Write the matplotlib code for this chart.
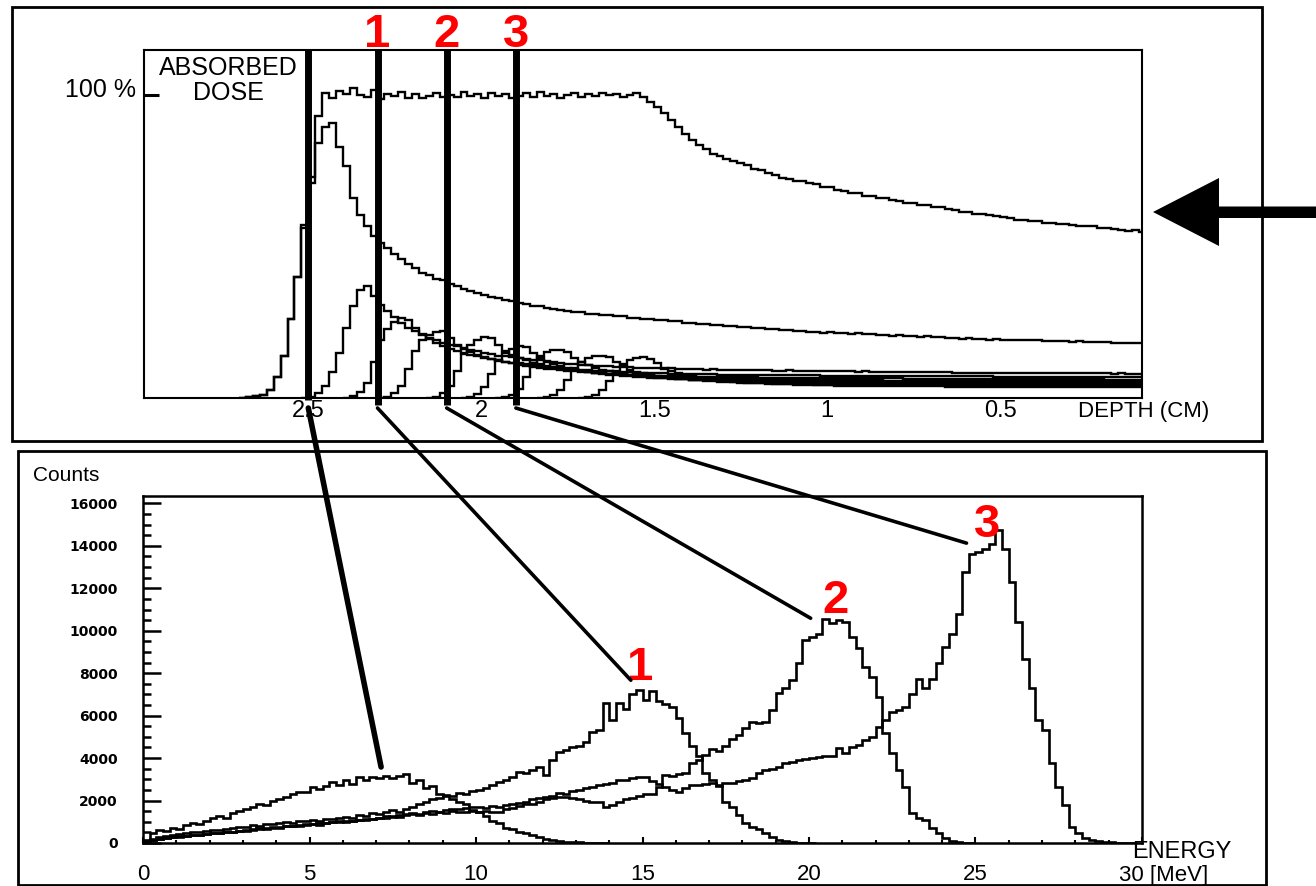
import numpy as np
import matplotlib
matplotlib.use("Agg")
import matplotlib.pyplot as plt
from matplotlib.patches import Rectangle, Polygon, ConnectionPatch
from matplotlib.transforms import blended_transform_factory
from matplotlib.ticker import MultipleLocator

plt.rcParams['font.family'] = ['Liberation Sans', 'DejaVu Sans']

# ---- depth-dose curves (% of plateau), 0.02 cm bins going from the start depth
# towards the entrance surface ----
bin_cm = 0.02
dose_start = [2.70, 2.70, 2.52, 2.40, 2.30, 2.16, 2.06, 1.96, 1.84, 1.72]

dose_total = [0.0, 0.2, 0.5, 1.0, 2.5, 7.0, 14.0, 26.0, 40.0, 57.0, 73.0, 93.0, 100.5,
              99.0, 101.2, 100.3, 102.4, 100.0, 99.3, 101.6, 98.8, 100.2, 99.6,
              100.9, 99.1, 100.4, 98.9, 99.8, 100.6, 99.2, 100.1, 99.5, 101.0,
              99.8, 100.4, 99.0, 100.8, 99.6, 100.2, 98.9, 99.7, 100.5, 99.3,
              100.9, 99.6, 100.3, 99.1, 100.0, 100.7, 99.4, 100.2, 99.8, 100.5,
              99.9, 100.3, 99.5, 100.1, 100.8,
              99.2, 97.8, 96.0, 94.2, 91.8, 89.6, 87.2, 85.3, 83.4, 82.1,
              80.6, 79.9, 78.8, 78.3, 77.4, 76.8, 75.7, 75.2, 74.1, 73.5,
              72.6, 72.4, 71.6, 71.5, 70.8, 70.6, 69.7, 69.5, 68.6, 68.4,
              67.6, 67.5, 66.8, 66.6, 66.0, 65.9, 65.2, 65.1, 64.4, 64.4,
              63.8, 63.7, 63.0, 62.9, 62.3, 62.1, 61.5, 61.4, 60.8, 60.8,
              60.3, 60.1, 59.6, 59.5, 58.9, 58.8, 58.3, 58.4, 57.9, 57.8,
              57.4, 57.5, 57.0, 56.9, 56.6, 56.6, 56.1, 56.0, 55.7, 55.6,
              55.2, 55.3, 54.9]

bragg_1 = [0.0, 0.2, 0.5, 1.0, 2.5, 7.0, 14.0, 26.0, 40.0, 56.0, 71.0, 84.0,
           89.5, 90.8, 83.0, 76.5, 66.0, 60.5, 56.8, 53.6, 51.2, 49.6,
           47.4, 45.9, 44.1, 42.8, 41.3, 40.5, 39.4, 38.9, 37.7, 36.9,
           36.1, 35.3, 34.7, 34.1, 33.3, 33.0, 32.4, 32.1, 31.4, 31.1,
           30.5, 30.2, 29.6, 29.5, 28.9, 28.8, 28.4, 28.3, 27.8, 27.7,
           27.3, 27.3, 26.9, 26.9, 26.4, 26.4, 26.0, 26.1, 25.7, 25.7,
           25.3, 25.3, 24.9, 24.9, 24.5, 24.5, 24.1, 24.1, 23.8, 23.8,
           23.4, 23.4, 23.1, 23.1, 22.7, 22.8, 22.4, 22.5, 22.1, 22.2,
           21.9, 21.9, 21.6, 21.7, 21.4, 21.5, 21.2, 21.3, 21.0, 21.1,
           20.8, 20.9, 20.6, 20.7, 20.4, 20.5, 20.2, 20.3, 20.0, 20.1,
           19.8, 19.9, 19.6, 19.7, 19.5, 19.6, 19.3, 19.4, 19.2, 19.3,
           19.1, 19.2, 19.0, 19.0, 18.8, 18.9, 18.7, 18.8, 18.6, 18.7,
           18.5, 18.6, 18.4, 18.4, 18.2, 18.3, 18.1, 18.2, 18.0]

bragg_2 = [0.0, 0.4, 1.5, 4.0, 8.5, 15.0, 23.0, 30.5, 35.5, 36.8,
           33.5, 30.8, 28.6, 26.8, 24.9, 23.2, 22.0, 20.8, 19.8, 19.0,
           18.2, 17.6, 17.0, 16.4, 15.9, 15.4, 14.9, 14.5, 14.0, 13.8,
           13.6, 13.3, 13.0, 12.7, 12.4, 12.1, 11.8, 11.6, 11.3, 11.1,
           10.9, 10.8, 10.6, 10.5, 10.4, 10.3, 10.2, 10.1, 10.0, 9.9,
           9.85, 9.9, 9.7, 9.75, 9.6, 9.55, 9.6, 9.45, 9.4, 9.45,
           9.3, 9.35, 9.25, 9.2, 9.3, 9.15, 9.1, 9.2, 9.05, 9.0,
           9.1, 8.95, 8.95, 9.0, 8.85, 8.85, 8.9, 8.8, 8.75, 8.8,
           8.7, 8.75, 8.65, 8.65, 8.7, 8.6, 8.55, 8.6, 8.5, 8.5,
           8.55, 8.45, 8.45, 8.5, 8.4, 8.4, 8.35, 8.4, 8.35, 8.3,
           8.35, 8.3, 8.25, 8.3, 8.25, 8.2, 8.25, 8.2, 8.2, 8.15,
           8.2, 8.15, 8.15, 8.1, 8.15, 8.1, 8.1, 8.05, 8.1, 8.05,
           8.05, 8.0]

bragg_3 = [0.0, 0.5, 2.0, 5.0, 12.0, 19.0, 22.8, 25.0, 26.5, 25.6,
           23.0, 21.0, 19.4, 18.0, 17.0, 16.1, 15.4, 14.8, 14.2, 13.7,
           13.2, 12.8, 12.4, 12.0, 11.7, 11.4, 11.1, 10.8, 10.6, 10.3,
           10.1, 9.9, 9.7, 9.5, 9.35, 9.2, 9.05, 8.9, 8.8, 8.7,
           8.6, 8.5, 8.4, 8.3, 8.25, 8.2, 8.1, 8.05, 8.0, 7.95,
           7.9, 7.85, 7.85, 7.8, 7.75, 7.75, 7.7, 7.7, 7.65, 7.65,
           7.6, 7.6, 7.55, 7.55, 7.5, 7.5, 7.5, 7.45, 7.45, 7.4,
           7.4, 7.4, 7.35, 7.35, 7.35, 7.3, 7.3, 7.3, 7.25, 7.25,
           7.25, 7.2, 7.2, 7.2, 7.2, 7.15, 7.15, 7.15, 7.15, 7.1,
           7.1, 7.1, 7.1, 7.1, 7.05, 7.05, 7.05, 7.05, 7.05, 7.0,
           7.0, 7.0, 7.0, 7.0, 7.0, 6.95, 6.95, 6.95, 6.95, 6.95,
           6.95, 6.9, 6.9, 6.9, 6.9, 6.9]

bragg_4 = [0.0, 0.4, 1.5, 4.0, 9.5, 15.5, 19.0, 20.8, 21.8, 22.0,
           19.8, 17.6, 16.2, 15.1, 14.2, 13.5, 12.9, 12.3, 11.8, 11.4,
           11.0, 10.6, 10.3, 10.0, 9.7, 9.45, 9.2, 9.0, 8.8, 8.6,
           8.45, 8.3, 8.15, 8.0, 7.9, 7.8, 7.7, 7.6, 7.5, 7.45,
           7.4, 7.3, 7.25, 7.2, 7.15, 7.1, 7.05, 7.0, 6.95, 6.9,
           6.9, 6.85, 6.85, 6.8, 6.8, 6.75, 6.75, 6.7, 6.7, 6.7,
           6.65, 6.65, 6.6, 6.6, 6.6, 6.55, 6.55, 6.55, 6.5, 6.5,
           6.5, 6.5, 6.45, 6.45, 6.45, 6.45, 6.4, 6.4, 6.4, 6.4,
           6.35, 6.35, 6.35, 6.35, 6.3, 6.3, 6.3, 6.3, 6.3, 6.25,
           6.25, 6.25, 6.25, 6.25, 6.2, 6.2, 6.2, 6.2, 6.2, 6.2,
           6.15, 6.15, 6.15, 6.15, 6.15, 6.1, 6.1, 6.1, 6.1, 6.1,
           6.1]

bragg_5 = [0.0, 0.4, 1.5, 4.0, 9.0, 14.5, 17.5, 19.0, 20.0, 19.8,
           17.6, 15.6, 14.2, 13.2, 12.4, 11.7, 11.1, 10.6, 10.2, 9.8,
           9.45, 9.15, 8.85, 8.6, 8.35, 8.15, 7.95, 7.8, 7.65, 7.5,
           7.35, 7.25, 7.1, 7.0, 6.9, 6.8, 6.75, 6.65, 6.6, 6.5,
           6.45, 6.4, 6.35, 6.3, 6.3, 6.25, 6.2, 6.2, 6.15, 6.1,
           6.1, 6.05, 6.05, 6.0, 6.0, 5.95, 5.95, 5.9, 5.9, 5.9,
           5.85, 5.85, 5.85, 5.8, 5.8, 5.8, 5.75, 5.75, 5.75, 5.75,
           5.7, 5.7, 5.7, 5.7, 5.7, 5.65, 5.65, 5.65, 5.65, 5.65,
           5.6, 5.6, 5.6, 5.6, 5.6, 5.6, 5.55, 5.55, 5.55, 5.55,
           5.55, 5.55, 5.5, 5.5, 5.5, 5.5, 5.5, 5.5, 5.5, 5.45,
           5.45, 5.45, 5.45, 5.45]

bragg_6 = [0.0, 0.3, 1.2, 3.5, 8.0, 12.5, 15.0, 16.3, 17.0, 16.8,
           14.9, 13.2, 12.0, 11.2, 10.5, 9.9, 9.4, 9.0, 8.6, 8.3,
           8.0, 7.7, 7.5, 7.3, 7.1, 6.95, 6.8, 6.65, 6.55, 6.45,
           6.35, 6.25, 6.15, 6.1, 6.0, 5.95, 5.9, 5.85, 5.8, 5.75,
           5.7, 5.65, 5.65, 5.6, 5.6, 5.55, 5.55, 5.5, 5.5, 5.45,
           5.45, 5.45, 5.4, 5.4, 5.4, 5.35, 5.35, 5.35, 5.3, 5.3,
           5.3, 5.3, 5.25, 5.25, 5.25, 5.25, 5.2, 5.2, 5.2, 5.2,
           5.2, 5.15, 5.15, 5.15, 5.15, 5.15, 5.1, 5.1, 5.1, 5.1,
           5.1, 5.1, 5.05, 5.05, 5.05, 5.05, 5.05, 5.05, 5.0, 5.0,
           5.0, 5.0, 5.0, 5.0, 5.0, 4.95, 4.95, 4.95, 4.95]

bragg_7 = [0.0, 0.3, 1.0, 3.0, 7.0, 11.5, 14.0, 15.2, 15.8, 16.0,
           15.2, 13.2, 11.8, 10.8, 10.0, 9.3, 8.8, 8.4, 8.0, 7.7,
           7.4, 7.15, 6.95, 6.75, 6.6, 6.45, 6.3, 6.2, 6.1, 6.0,
           5.9, 5.8, 5.75, 5.65, 5.6, 5.5, 5.45, 5.4, 5.35, 5.3,
           5.25, 5.2, 5.2, 5.15, 5.1, 5.1, 5.05, 5.05, 5.0, 5.0,
           4.95, 4.95, 4.9, 4.9, 4.9, 4.85, 4.85, 4.85, 4.8, 4.8,
           4.8, 4.75, 4.75, 4.75, 4.75, 4.7, 4.7, 4.7, 4.7, 4.65,
           4.65, 4.65, 4.65, 4.65, 4.6, 4.6, 4.6, 4.6, 4.6, 4.55,
           4.55, 4.55, 4.55, 4.55, 4.55, 4.5, 4.5, 4.5, 4.5, 4.5,
           4.5, 4.5, 4.45, 4.45]

bragg_8 = [0.0, 0.3, 1.0, 2.8, 6.0, 9.8, 12.0, 13.1, 13.8, 14.0,
           13.5, 11.8, 10.4, 9.4, 8.7, 8.1, 7.6, 7.2, 6.9, 6.6,
           6.35, 6.15, 5.95, 5.8, 5.65, 5.5, 5.4, 5.3, 5.2, 5.1,
           5.0, 4.95, 4.85, 4.8, 4.75, 4.7, 4.65, 4.6, 4.55, 4.5,
           4.45, 4.45, 4.4, 4.4, 4.35, 4.35, 4.3, 4.3, 4.3, 4.25,
           4.25, 4.25, 4.2, 4.2, 4.2, 4.15, 4.15, 4.15, 4.15, 4.1,
           4.1, 4.1, 4.1, 4.1, 4.05, 4.05, 4.05, 4.05, 4.05, 4.0,
           4.0, 4.0, 4.0, 4.0, 4.0, 3.95, 3.95, 3.95, 3.95, 3.95,
           3.95, 3.9, 3.9, 3.9, 3.9, 3.9, 3.9, 3.9]

bragg_9 = [0.0, 0.3, 1.0, 2.6, 5.5, 9.0, 11.3, 12.5, 13.2, 13.5,
           13.0, 11.4, 10.0, 9.0, 8.2, 7.6, 7.1, 6.7, 6.35, 6.05,
           5.8, 5.6, 5.4, 5.25, 5.1, 4.95, 4.85, 4.75, 4.65, 4.55,
           4.5, 4.4, 4.35, 4.3, 4.25, 4.2, 4.15, 4.1, 4.05, 4.0,
           4.0, 3.95, 3.95, 3.9, 3.9, 3.9, 3.85, 3.85, 3.85, 3.8,
           3.8, 3.8, 3.8, 3.75, 3.75, 3.75, 3.75, 3.7, 3.7, 3.7,
           3.7, 3.7, 3.65, 3.65, 3.65, 3.65, 3.65, 3.6, 3.6, 3.6,
           3.6, 3.6, 3.6, 3.6, 3.55, 3.55, 3.55, 3.55, 3.55, 3.55,
           3.5, 3.5]

depth_ticks = [2.5, 2.0, 1.5, 1.0, 0.5]
depth_tick_labels = ['2.5', '2', '1.5', '1', '0.5']

# ---- energy spectra at the marked depths, 0.2 MeV bins from 0 MeV ----
e_bin = 0.2
counts_25 = [150, 450, 600, 560, 700, 680, 850, 960, 900, 1050,
             1180, 1250, 1200, 1420, 1500, 1580, 1700, 1820, 1780, 1980,
             2080, 2150, 2300, 2420, 2380, 2620, 2550, 2700, 2860, 2750,
             2950, 2800, 3120, 2980, 3100, 3050, 3180, 3080, 3150, 3250,
             2850, 2950, 2600, 2700, 2300, 2200, 2050, 1950, 1850, 1550,
             1450, 1250, 1020, 920, 720, 650, 520, 450, 360, 270,
             210, 150, 100, 70, 50, 30, 20, 10, 5, 0]

counts_1 = [80, 200, 300, 330, 380, 420, 450, 530, 520, 580,
            610, 600, 680, 700, 740, 760, 830, 800, 880, 900,
            920, 980, 950, 1020, 1050, 1080, 1060, 1150, 1120, 1200,
            1240, 1190, 1300, 1280, 1400, 1350, 1450, 1550, 1480, 1600,
            1700, 1850, 1950, 2080, 2100, 2250, 2200, 2340, 2300, 2450,
            2500, 2580, 2750, 2890, 2950, 3100, 3350, 3300, 3440, 3590,
            3200, 3900, 4300, 4380, 4500, 4550, 4770, 5240, 5320, 6580,
            5800, 6580, 6300, 7040, 7200, 6730, 7150, 6700, 6550, 6420,
            5900, 5200, 4550, 4100, 3300, 2950, 2750, 1950, 1700, 1300,
            950, 750, 640, 480, 300, 150, 80, 40, 20, 10, 0]

counts_2 = [60, 150, 200, 250, 280, 320, 350, 400, 380, 430,
            450, 480, 520, 500, 560, 600, 650, 700, 680, 740,
            760, 800, 780, 850, 880, 900, 870, 950, 1000, 980,
            1050, 1020, 1100, 1080, 1150, 1200, 1180, 1250, 1220, 1300,
            1350, 1320, 1400, 1380, 1450, 1420, 1500, 1470, 1450, 1500,
            1470, 1520, 1480, 1470, 1600, 1650, 1750, 1820, 1860, 1950,
            2050, 2100, 2150, 2180, 2100, 2050, 2000, 1950, 1940, 1710,
            1800, 1950, 2050, 2100, 2200, 2300, 2330, 2650, 3200, 3150,
            3250, 3280, 3760, 3900, 4140, 4450, 4350, 4560, 4900, 5080,
            5400, 5710, 5650, 5700, 6260, 7060, 7300, 7670, 8500, 9550,
            9700, 9870, 10570, 10350, 10500, 10420, 9700, 9170, 8300, 7830,
            6890, 5160, 4220, 3440, 2650, 1400, 1200, 1080, 690, 450,
            220, 100, 60, 20, 0]

counts_3 = [50, 120, 180, 230, 260, 300, 330, 370, 400, 420,
            460, 450, 500, 540, 580, 560, 620, 660, 700, 720,
            700, 780, 820, 800, 870, 900, 940, 920, 980, 1020,
            1000, 1060, 1100, 1150, 1120, 1180, 1250, 1220, 1300, 1350,
            1400, 1370, 1450, 1500, 1480, 1550, 1600, 1580, 1650, 1680,
            1700, 1650, 1720, 1710, 1800, 1850, 1900, 1950, 2050, 2100,
            2180, 2200, 2350, 2330, 2450, 2500, 2600, 2650, 2730, 2800,
            2850, 2950, 2960, 3050, 3100, 3120, 2930, 2800, 2650, 2500,
            2410, 2600, 2730, 2750, 2800, 2810, 2700, 2850, 2810, 2900,
            2950, 3050, 3300, 3440, 3500, 3580, 3760, 3800, 3900, 3950,
            4000, 4050, 4090, 4100, 4470, 4230, 4520, 4600, 4850, 4990,
            5460, 5790, 6180, 6260, 6410, 7040, 7750, 7280, 7750, 8470,
            9240, 9870, 10810, 12770, 13630, 13700, 13850, 14100, 14730, 13870,
            12300, 10400, 8690, 7280, 5790, 5320, 3750, 2650, 1800, 770,
            460, 250, 140, 100, 60, 40, 20, 10, 0]

# marked depths and where each one points to in its spectrum
probe_depth = [2.5, 2.3, 2.1, 1.9]
probe_energy = [7.15, 14.65, 20.05, 24.73]
probe_counts = [3580, 7670, 10590, 14130]
peak_names = ['1', '2', '3']
peak_label_energy = [14.92, 20.81, 25.35]
peak_label_counts = [7670, 10820, 14400]

W, H = 1316, 886
fig = plt.figure(figsize=(W / 100, H / 100), dpi=100)


def box(x0, y0, x1, y1):
    return [x0 / W, 1 - y1 / H, (x1 - x0) / W, (y1 - y0) / H]


ax_top = fig.add_axes(box(144, 50, 1142, 398))
ax_bot = fig.add_axes(box(143, 496, 1142, 843))

# panel frames
for x0, y0, x1, y1 in [(12, 7, 1262, 441), (18, 451, 1266, 885)]:
    l, b, w, h = box(x0, y0, x1, y1)
    fig.add_artist(Rectangle((l, b), w, h, transform=fig.transFigure,
                             fill=False, ec='black', lw=2))

# ---- top: absorbed dose vs depth ----
dose_curves = [dose_total, bragg_1, bragg_2, bragg_3, bragg_4,
               bragg_5, bragg_6, bragg_7, bragg_8, bragg_9]
for start, vals in zip(dose_start, dose_curves):
    edges = start - bin_cm * np.arange(len(vals) + 1)
    ax_top.stairs(np.asarray(vals)[::-1], edges[::-1], baseline=None,
                  color='black', lw=1.7)

ax_top.set_xlim(2.975, 0.09)
ax_top.set_ylim(0, 114.85)
ax_top.set_xticks(depth_ticks)
ax_top.set_xticklabels(depth_tick_labels, fontsize=17)
ax_top.tick_params(axis='x', length=0, pad=1.3)
ax_top.set_yticks([100])
ax_top.set_yticklabels([''])
ax_top.tick_params(axis='y', direction='in', length=10.5, width=2.2)
for sp in ax_top.spines.values():
    sp.set_linewidth(1.5)

ytop = blended_transform_factory(ax_top.transAxes, ax_top.transData)
ax_top.text(-0.008, 99.2, '100 %', transform=ytop, ha='right', va='baseline',
            fontsize=18)
ax_top.text(0.0842, 0.984, 'ABSORBED\nDOSE', transform=ax_top.transAxes,
            ha='center', va='top', multialignment='center', fontsize=18,
            linespacing=1.05)
ax_top.text(0.936, -0.0546, 'DEPTH (CM)', transform=ax_top.transAxes,
            ha='left', va='baseline', fontsize=16)

for i, d in enumerate(probe_depth):
    ax_top.axvline(d, ymin=-0.006 if i == 0 else -0.02, ymax=1.0, color='black',
                   lw=5, solid_capstyle='butt', clip_on=False, zorder=5)

xtop = blended_transform_factory(ax_top.transData, ax_top.transAxes)
for d, name in zip(probe_depth[1:], peak_names):
    ax_top.text(d, 1.0086, name, transform=xtop, ha='center', va='baseline',
                color='#ff0000', fontsize=34, fontweight='bold')

# ---- bottom: energy spectra ----
for vals in [counts_25, counts_1, counts_2, counts_3]:
    edges = e_bin * np.arange(len(vals) + 1)
    ax_bot.stairs(vals, edges, baseline=None, color='black', lw=1.9)

ax_bot.set_xlim(0, 30)
ax_bot.set_ylim(0, 16350)
ax_bot.set_xticks(np.arange(0, 31, 5))
ax_bot.set_xticklabels(['0', '5', '10', '15', '20', '25', ''], fontsize=16)
ax_bot.xaxis.set_minor_locator(MultipleLocator(1))
ax_bot.set_yticks(np.arange(0, 16001, 2000))
ax_bot.set_yticklabels([str(v) for v in range(0, 16001, 2000)], fontsize=10,
                       fontweight='bold', fontfamily='DejaVu Sans')
ax_bot.yaxis.set_minor_locator(MultipleLocator(500))
ax_bot.tick_params(axis='x', which='major', direction='in', length=4.3, width=1.5, pad=15)
ax_bot.tick_params(axis='x', which='minor', direction='in', length=2.5, width=1.5)
ax_bot.tick_params(axis='y', which='major', direction='in', length=13, width=1.8, pad=18)
ax_bot.tick_params(axis='y', which='minor', direction='in', length=5.5, width=1.8)
for sp in ax_bot.spines.values():
    sp.set_linewidth(1.8)

ax_bot.text(-0.110, 1.0432, 'Counts', transform=ax_bot.transAxes,
            ha='left', va='baseline', fontsize=15)
ax_bot.text(0.990, -0.0437, 'ENERGY', transform=ax_bot.transAxes,
            ha='left', va='baseline', fontsize=17)
ax_bot.text(0.977, -0.1095, '30 [MeV]', transform=ax_bot.transAxes,
            ha='left', va='baseline', fontsize=16)

for e, c, name in zip(peak_label_energy, peak_label_counts, peak_names):
    ax_bot.text(e, c, name, ha='center', va='baseline', color='#ff0000',
                fontsize=34, fontweight='bold')

# lines from each marked depth down to its spectrum
for i, (d, e, c) in enumerate(zip(probe_depth, probe_energy, probe_counts)):
    con = ConnectionPatch(xyA=(d, -3.3), coordsA=ax_top.transData,
                          xyB=(e, c), coordsB=ax_bot.transData,
                          color='black', lw=4 if i == 0 else 2.6, zorder=6)
    fig.add_artist(con)

# beam direction arrow
arrow_px = [(1153, 212), (1219, 178), (1219, 206.5), (1316, 206.5),
            (1316, 218), (1219, 218), (1219, 246)]
fig.add_artist(Polygon([(x / W, 1 - y / H) for x, y in arrow_px], closed=True,
                       transform=fig.transFigure, fc='black', ec='none'))

fig.savefig('out.png', dpi=100)
